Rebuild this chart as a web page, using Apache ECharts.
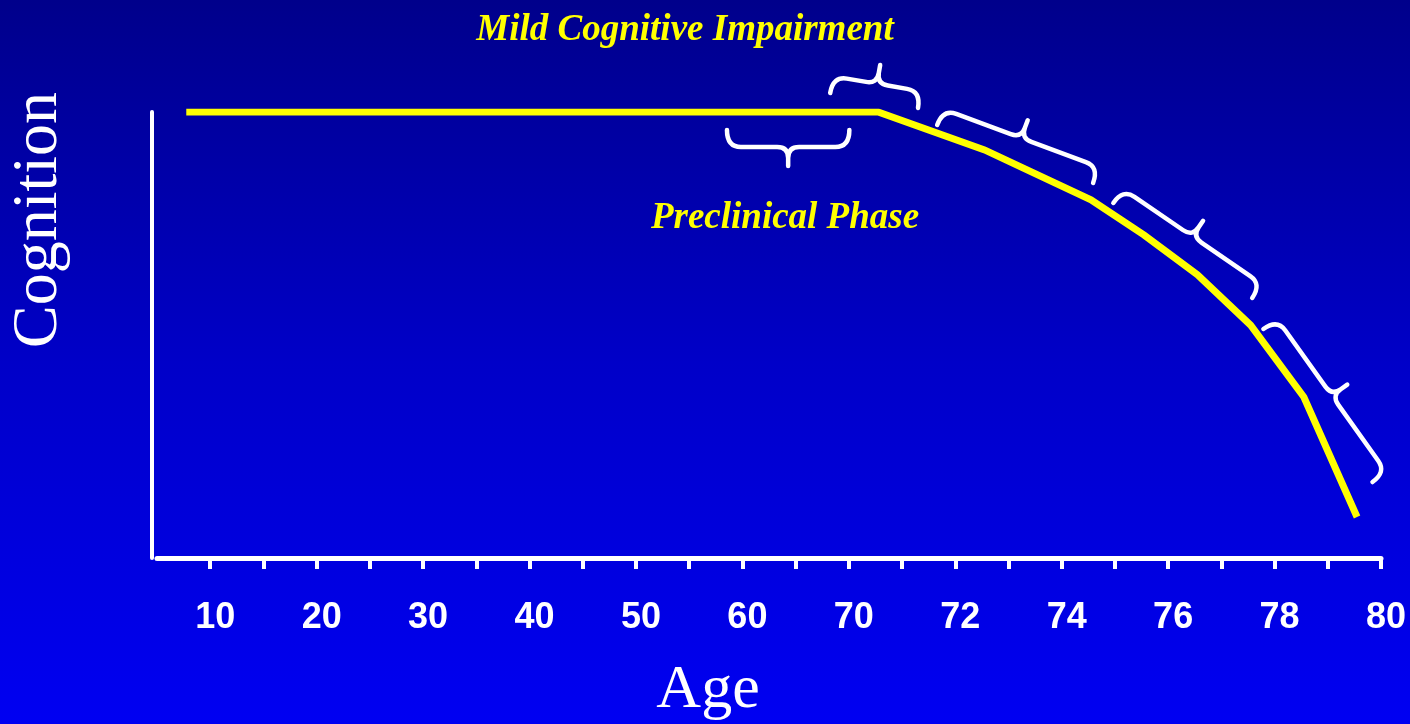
<!DOCTYPE html>
<html>
<head>
<meta charset="utf-8">
<script src="https://cdn.jsdelivr.net/npm/echarts@6/dist/echarts.min.js"></script>
<style>
  html, body { margin: 0; padding: 0; width: 1410px; height: 724px; overflow: hidden; }
  #chart { width: 1410px; height: 724px; background: linear-gradient(to bottom, #00008B 0%, #0000C8 50%, #0000F2 100%); }
</style>
</head>
<body>
<div id="chart"></div>
<script>
// Axis positions are in "tick units": one unit per tick on the x axis.
const tickPositions = [1,2,3,4,5,6,7,8,9,10,11,12,13,14,15,16,17,18,19,20,21,22,23];
const labelPositions = [1,3,5,7,9,11,13,15,17,19,21,23];
const tickLabels = ['10','20','30','40','50','60','70','72','74','76','78','80'];

// Cognition curve (x in tick units, y in 0–100 cognition scale)
const lineX = [0.55, 13.55, 15.55, 17.55, 18.55, 19.55, 20.55, 21.55, 22.55];
const cognition = [100, 100, 91.5, 80.3, 72.4, 63.5, 52.2, 36.1, 9.2];

// Curly braces: [x1, y1, x2, y2, side]
const braces = [
  [10.71, 95.96, 13.01, 95.96, 1],
  [12.65, 104.26, 14.30, 100.9, -1],
  [14.66, 97.09, 17.59, 84.08, -1],
  [17.97, 79.60, 20.58, 58.30, -1],
  [20.79, 51.35, 22.84, 17.04, -1]
];

const labelMap = {};
labelPositions.forEach((p, i) => { labelMap[p] = tickLabels[i]; });

const chart = echarts.init(document.getElementById('chart'));

function braceItem(params, api) {
  const a = api.coord([api.value(0), api.value(1)]);
  const b = api.coord([api.value(2), api.value(3)]);
  const side = api.value(4);
  const dx = b[0] - a[0], dy = b[1] - a[1];
  const L = Math.hypot(dx, dy);
  const ux = dx / L, uy = dy / L;
  const nx = -uy * side, ny = ux * side;
  const P = (s, t) => (a[0] + ux * s + nx * t).toFixed(2) + ' ' + (a[1] + uy * s + ny * t).toFixed(2);
  const h1 = 17, h2 = 36, r = 14, r2 = 11, m = L / 2;
  const d = 'M ' + P(0, 0) +
    ' Q ' + P(0, h1) + ' ' + P(r, h1) +
    ' L ' + P(m - r2, h1) +
    ' Q ' + P(m, h1) + ' ' + P(m, h1 + r2) +
    ' L ' + P(m, h2) +
    ' M ' + P(m, h1 + r2) +
    ' Q ' + P(m, h1) + ' ' + P(m + r2, h1) +
    ' L ' + P(L - r, h1) +
    ' Q ' + P(L, h1) + ' ' + P(L, 0);
  return {
    type: 'path',
    shape: { pathData: d },
    style: { fill: 'none', stroke: '#ffffff', lineWidth: 4.5, lineCap: 'round', lineJoin: 'round' }
  };
}

const option = {
  backgroundColor: 'transparent',
  animation: false,
  grid: { left: 157, right: 29, top: 112, bottom: 166 },
  xAxis: {
    type: 'value', min: 0, max: 23, interval: 1,
    splitLine: { show: false },
    axisLine: { show: true, onZero: false, lineStyle: { color: '#ffffff', width: 5 } },
    axisTick: { show: true, customValues: tickPositions, length: 11, lineStyle: { color: '#ffffff', width: 4 } },
    axisLabel: {
      customValues: labelPositions,
      formatter: v => (labelMap[v] !== undefined ? labelMap[v] : ''),
      color: '#ffffff', fontSize: 36, fontWeight: 'bold',
      fontFamily: '"Liberation Sans", Arial, sans-serif',
      margin: 42, padding: [0, 0, 0, 10]
    }
  },
  yAxis: {
    type: 'value', min: 0, max: 100, offset: 5,
    splitLine: { show: false },
    axisLine: { show: true, onZero: false, lineStyle: { color: '#ffffff', width: 4 } },
    axisTick: { show: false },
    axisLabel: { show: false }
  },
  graphic: [
    { type: 'text', x: 39, y: 220, rotation: Math.PI / 2,
      style: { text: 'Cognition', fill: '#ffffff', fontSize: 64, fontFamily: '"Liberation Serif", "Times New Roman", serif', align: 'center', verticalAlign: 'middle' } },
    { type: 'text', x: 708, y: 691,
      style: { text: 'Age', fill: '#ffffff', fontSize: 62, fontFamily: '"Liberation Serif", "Times New Roman", serif', align: 'center', verticalAlign: 'middle' } },
    { type: 'text', x: 685, y: 30,
      style: { text: 'Mild Cognitive Impairment', fill: '#FFFF00', fontSize: 37, fontWeight: 'bold', fontStyle: 'italic', fontFamily: '"Liberation Serif", "Times New Roman", serif', align: 'center', verticalAlign: 'middle' } },
    { type: 'text', x: 785, y: 218,
      style: { text: 'Preclinical Phase', fill: '#FFFF00', fontSize: 37, fontWeight: 'bold', fontStyle: 'italic', fontFamily: '"Liberation Serif", "Times New Roman", serif', align: 'center', verticalAlign: 'middle' } }
  ],
  series: [
    {
      type: 'line',
      data: lineX.map((x, i) => [x, cognition[i]]),
      symbol: 'none',
      lineStyle: { color: '#FFFF00', width: 7, join: 'miter' },
      z: 3
    },
    {
      type: 'custom',
      clip: false,
      renderItem: braceItem,
      data: braces,
      z: 4
    }
  ]
};
chart.setOption(option);
</script>
</body>
</html>
